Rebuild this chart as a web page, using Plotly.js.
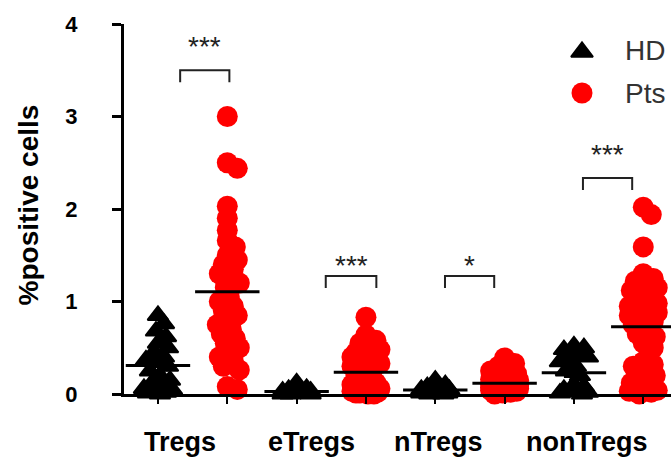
<!DOCTYPE html>
<html><head><meta charset="utf-8">
<script src="https://cdn.plot.ly/plotly-3.0.1.min.js"></script>
<style>html,body{margin:0;padding:0;background:#fff}#chart{width:671px;height:463px}</style>
</head><body><div id="chart"></div>
<script>
// ---------- data ----------
const categories = ["Tregs", "eTregs", "nTregs", "nonTregs"];
const groupNames = ["HD", "Pts"];
const significance = ["***", "***", "*", "***"];
const yTicks = [0, 1, 2, 3, 4];

const tregsHD = [0.85, 0.76, 0.68, 0.62, 0.55, 0.50, 0.45, 0.40, 0.37, 0.34, 0.30, 0.25, 0.20, 0.15, 0.12, 0.08, 0.06, 0.05, 0.04, 0.02, 0.01, 0.00];
const tregsPts = [3.00, 2.50, 2.44, 2.03, 1.90, 1.77, 1.66, 1.59, 1.50, 1.45, 1.40, 1.35, 1.30, 1.25, 1.20, 1.15,
                  1.05, 1.00, 0.95, 0.90, 0.85, 0.80, 0.75, 0.70, 0.65, 0.60, 0.55, 0.50, 0.45, 0.40, 0.35, 0.30, 0.26, 0.08, 0.05];
const eTregsHD = [0.12, 0.06, 0.05, 0.04, 0.03, 0.03, 0.02, 0.02, 0.02, 0.01, 0.01, 0.01, 0.00, 0.00, 0.00];
const eTregsPts = [0.83, 0.64, 0.58, 0.55, 0.50, 0.48, 0.45, 0.42, 0.40, 0.40, 0.38, 0.35, 0.33, 0.30, 0.28, 0.25,
                   0.20, 0.16, 0.12, 0.10, 0.08, 0.07, 0.06, 0.05, 0.05, 0.04, 0.04, 0.03, 0.03, 0.02, 0.02, 0.01, 0.01, 0.00, 0.00];
const nTregsHD = [0.15, 0.10, 0.08, 0.06, 0.05, 0.05, 0.04, 0.03, 0.03, 0.02, 0.02, 0.01, 0.01, 0.00, 0.00];
const nTregsPts = [0.39, 0.33, 0.30, 0.27, 0.25, 0.22, 0.20, 0.18, 0.16, 0.15, 0.14, 0.13, 0.12, 0.11, 0.10,
                   0.09, 0.09, 0.08, 0.08, 0.07, 0.07, 0.07, 0.06, 0.06, 0.06, 0.05, 0.05, 0.05, 0.04, 0.04, 0.03, 0.03, 0.02, 0.01, 0.00];
const nonTregsHD = [0.52, 0.50, 0.48, 0.42, 0.40, 0.38, 0.35, 0.30, 0.25, 0.20, 0.10, 0.08, 0.05, 0.04, 0.03, 0.02, 0.01, 0.00];
const nonTregsPts = [2.02, 1.94, 1.59, 1.30, 1.25, 1.22, 1.18, 1.15, 1.12, 1.10, 1.05, 1.02, 1.00, 0.98, 0.95, 0.92, 0.90, 0.88, 0.85, 0.80, 0.78, 0.75,
                     0.70, 0.65, 0.62, 0.55, 0.50, 0.35, 0.32, 0.30, 0.25, 0.20, 0.15, 0.12, 0.10, 0.08, 0.05, 0.04, 0.03, 0.02, 0.00];

const hdSeries = [tregsHD, eTregsHD, nTregsHD, nonTregsHD];
const ptsSeries = [tregsPts, eTregsPts, nTregsPts, nonTregsPts];

// ---------- layout constants ----------
const W = 671, H = 463;
const M = {l: 124, r: 0, t: 24, b: 69};
const XR = [-0.49, 7.40], YR = [0, 4];
const KX = (W - M.l - M.r) / (XR[1] - XR[0]);
const KY = (H - M.t - M.b) / (YR[1] - YR[0]);
const FONT = "Liberation Sans, Arial, sans-serif";
const SPREAD = 14, MIN_D = 10;

// bracket geometry per category (offsets from HD / Pts slots, heights in axis units)
const bracketL = [0.32, 0.42, 0.14, 0.13];
const bracketR = [0.03, 0.15, -0.15, -0.16];
const bracketTop = [3.50, 1.276, 1.276, 2.335];
const bracketLeg = 0.13;
const starY = [3.76, 1.384, 1.384, 2.584];
const labelX = [0.317, 2.208, 4.04, 6.19];

// ---------- helpers ----------
const mean = a => a.reduce((s, v) => s + v, 0) / a.length;
const sem = a => { const m = mean(a); const sd = Math.sqrt(a.reduce((s, v) => s + (v - m) ** 2, 0) / (a.length - 1)); return sd / Math.sqrt(a.length); };

function swarm(values, center) {
  const order = values.map((v, i) => i).sort((a, b) => values[b] - values[a]);
  const placed = [], xs = new Array(values.length);
  const cands = [0];
  for (let o = 2; o <= SPREAD; o += 2) cands.push(o, -o);
  order.forEach(i => {
    const py = values[i] * KY;
    let best = 0, bestScore = -1;
    for (const c of cands) {
      let md = Infinity;
      for (const p of placed) { const d = Math.hypot(p[0] - c, p[1] - py); if (d < md) md = d; }
      if (md >= MIN_D) { best = c; bestScore = md; break; }
      if (md > bestScore) { bestScore = md; best = c; }
    }
    placed.push([best, py]);
    xs[i] = center + best / KX;
  });
  return xs;
}

// ---------- traces ----------
const hdX = [], hdY = [], ptX = [], ptY = [];
const slotX = [], slotMean = [], slotSem = [];
categories.forEach((c, i) => {
  const h = hdSeries[i], p = ptsSeries[i];
  hdX.push(...swarm(h, 2 * i)); hdY.push(...h);
  ptX.push(...swarm(p, 2 * i + 1)); ptY.push(...p);
  slotX.push(2 * i, 2 * i + 1);
  slotMean.push(mean(h), mean(p));
  slotSem.push(sem(h), sem(p));
});

const traces = [
  {x: slotX, y: slotMean, type: "scatter", mode: "markers", showlegend: false, hoverinfo: "skip",
   marker: {size: 1, color: "rgba(0,0,0,0)"}, cliponaxis: false,
   error_y: {type: "data", array: slotSem, visible: true, color: "#000", thickness: 2, width: 10}},
  {x: hdX, y: hdY, type: "scatter", mode: "markers", name: groupNames[0], showlegend: false, cliponaxis: false,
   marker: {symbol: "triangle-up", size: 18, color: "#000", line: {color: "#000", width: 2}}},
  {x: ptX, y: ptY, type: "scatter", mode: "markers", name: groupNames[1], showlegend: false, cliponaxis: false,
   marker: {symbol: "circle", size: 21, color: "#ff0000", line: {width: 0}}},
  {x: slotX, y: slotMean, type: "scatter", mode: "markers", showlegend: false, cliponaxis: false, hoverinfo: "skip",
   marker: {symbol: "line-ew", size: 46, color: "#000", line: {color: "#000", width: 3}}},
  // legend glyphs on a pixel overlay
  {x: [582], y: [52], xaxis: "x2", yaxis: "y2", type: "scatter", mode: "markers", showlegend: false, cliponaxis: false,
   marker: {symbol: "triangle-up", size: 19, color: "#000", line: {color: "#000", width: 2}}},
  {x: [582], y: [93], xaxis: "x2", yaxis: "y2", type: "scatter", mode: "markers", showlegend: false, cliponaxis: false,
   marker: {symbol: "circle", size: 21, color: "#ff0000"}}
];

// ---------- shapes & annotations ----------
const shapes = categories.map((c, i) => {
  const x0 = 2 * i + bracketL[i], x1 = 2 * i + 1 + bracketR[i];
  const t = bracketTop[i], b = t - bracketLeg;
  return {type: "path", xref: "x", yref: "y", path: `M${x0},${b} L${x0},${t} L${x1},${t} L${x1},${b}`,
          line: {color: "#222", width: 2}};
});

const annotations = [];
categories.forEach((c, i) => {
  annotations.push({x: labelX[i], y: -0.13, xref: "x", yref: "paper", text: c, showarrow: false,
    xanchor: "center", yanchor: "middle", font: {family: FONT, size: 27, color: "#000", weight: "bold"}});
  annotations.push({x: (2 * i + bracketL[i] + 2 * i + 1 + bracketR[i]) / 2, y: starY[i], xref: "x", yref: "y",
    text: significance[i], showarrow: false, xanchor: "center", yanchor: "middle",
    font: {family: FONT, size: 28, color: "#222"}});
});
annotations.push({x: -0.1746, y: 0.511, xref: "paper", yref: "paper", text: "%positive cells", textangle: -90,
  showarrow: false, xanchor: "center", yanchor: "middle", font: {family: FONT, size: 28, color: "#000", weight: "bold"}});
groupNames.forEach((g, i) => {
  annotations.push({x: 623, y: [50, 93][i], xref: "x2", yref: "y2", text: g, showarrow: false,
    xanchor: "left", yanchor: "middle", font: {family: FONT, size: 28, color: "#333"}});
});

const layout = {
  width: W, height: H, margin: M, paper_bgcolor: "#fff", plot_bgcolor: "#fff", showlegend: false,
  xaxis: {range: XR, showgrid: false, zeroline: false, showline: true, linecolor: "#000", linewidth: 3,
          tickvals: slotX, ticks: "outside", ticklen: 7, tickwidth: 2, tickcolor: "#000", showticklabels: false, fixedrange: true},
  yaxis: {range: YR, showgrid: false, zeroline: false, showline: true, linecolor: "#000", linewidth: 3,
          tickvals: yTicks, ticks: "outside", ticklen: 9, tickwidth: 3, tickcolor: "#000", ticklabelstandoff: 30,
          tickfont: {family: FONT, size: 22, color: "#000", weight: "bold"}, fixedrange: true},
  xaxis2: {overlaying: "x", range: [M.l, W - M.r], visible: false, fixedrange: true},
  yaxis2: {overlaying: "y", range: [H - M.b, M.t], visible: false, fixedrange: true},
  shapes: shapes, annotations: annotations
};

Plotly.newPlot("chart", traces, layout, {displayModeBar: false, staticPlot: true});
</script></body></html>
